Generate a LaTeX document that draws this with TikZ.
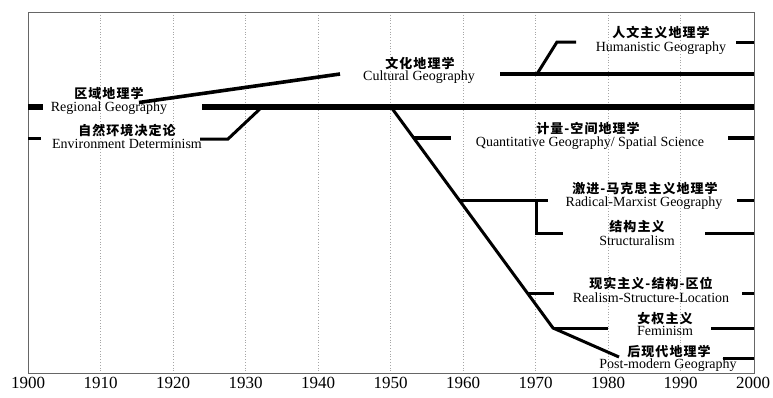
\documentclass[tikz,border=0pt]{standalone}
\usepackage{fontspec}
\setmainfont{Liberation Serif}
\newfontfamily\cjk{Noto Sans CJK SC}[LetterSpace=8]
\tikzset{
  en/.style={font=\fontsize{14}{14}\selectfont, inner sep=0pt, anchor=center},
  zh/.style={font=\cjk\bfseries\fontsize{13}{13}\selectfont, inner sep=0pt, anchor=center},
  yr/.style={font=\fontsize{17}{17}\selectfont, inner sep=0pt, anchor=center},
  gridline/.style={draw=gray!70, dotted, line width=0.8pt},
  frameline/.style={draw=gray!80!black, line width=1pt},
  bar6/.style={line width=6pt},
  bar4/.style={line width=4pt},
  bar3/.style={line width=3pt, line join=miter},
}
\begin{document}
\begin{tikzpicture}[x=1pt,y=-1pt]
\useasboundingbox (0,0) rectangle (773,397);
% grid
\foreach \i in {1,...,9} {
  \coordinate (gt\i) at ({28+72.5*\i},12);
  \coordinate (gb\i) at ({28+72.5*\i},373);
  \draw[gridline] (gt\i) -- (gb\i);
}
\coordinate (fr1) at (28,12);
\coordinate (fr2) at (754,373);
\draw[frameline] (fr1) rectangle (fr2);
% axis labels
\foreach \i/\y in {0/1900,1/1910,2/1920,3/1930,4/1940,5/1950,6/1960,7/1970,8/1980,9/1990,10/2000} {
  \node[yr] (yr\i) at ({28+72.5*\i},383) {\y};
}
% Regional geography main bar
\coordinate (r1) at (28,107); \coordinate (r2) at (43,107);
\coordinate (r3) at (202,107); \coordinate (r4) at (754,107);
\draw[bar6] (r1) -- (r2);
\draw[bar6] (r3) -- (r4);
% Cultural geography branch and bar
\coordinate (c0) at (139,102.5); \coordinate (c1) at (340,74);
\draw[line width=3.6pt] (c0) -- (c1);
\coordinate (c3) at (500,74); \coordinate (c4) at (754,74);
\draw[bar4] (c3) -- (c4);
% Humanistic
\coordinate (h0) at (537,74); \coordinate (h1) at (557,42); \coordinate (h2) at (576,42);
\coordinate (h3) at (736,42); \coordinate (h4) at (754,42);
\draw[bar3] (h0) -- (h1) -- (h2);
\draw[bar3] (h3) -- (h4);
% Environment determinism
\coordinate (e0) at (28,138); \coordinate (e1) at (41,138);
\coordinate (e2) at (200,139); \coordinate (e3) at (228,139); \coordinate (e4) at (262,107);
\draw[bar3] (e0) -- (e1);
\draw[bar3] (e2) -- (e3) -- (e4);
% main diagonal
\coordinate (d0) at (391,107); \coordinate (d1) at (553,328); \coordinate (d2) at (619,357);
\draw[bar3] (d0) -- (d1) -- (d2);
% Quantitative
\coordinate (q0) at (413.7,138); \coordinate (q1) at (451,138);
\coordinate (q2) at (728,138); \coordinate (q3) at (754,138);
\draw[bar4] (q0) -- (q1); \draw[bar4] (q2) -- (q3);
% Radical
\coordinate (m0) at (459,200); \coordinate (m1) at (548,200);
\coordinate (m2) at (737,200); \coordinate (m3) at (754,200);
\draw[bar3] (m0) -- (m1); \draw[bar3] (m2) -- (m3);
% Structuralism
\coordinate (s0) at (536,200); \coordinate (s1) at (536,233); \coordinate (s2) at (563,233);
\coordinate (s3) at (705,233); \coordinate (s4) at (754,233);
\draw[bar3] (s0) -- (s1) -- (s2); \draw[bar3] (s3) -- (s4);
% Realism
\coordinate (l0) at (527,293); \coordinate (l1) at (554,293);
\coordinate (l2) at (742,293); \coordinate (l3) at (754,293);
\draw[bar3] (l0) -- (l1); \draw[bar3] (l2) -- (l3);
% Feminism
\coordinate (f1) at (608,328); \coordinate (f2) at (711,328); \coordinate (f3) at (754,328);
\draw[bar3] (d1) -- (f1); \draw[bar3] (f2) -- (f3);
% Post-modern
\coordinate (p0) at (723,358); \coordinate (p1) at (754,358);
\draw[bar3] (p0) -- (p1);
% labels
\node[zh] (t1z) at (109,93) {区域地理学};
\node[en] (t1e) at (109,108) {Regional Geography};
\node[zh] (t2z) at (127,131) {自然环境决定论};
\node[en] (t2e) at (127,144) {Environment Determinism};
\node[zh] (t3z) at (420,63) {文化地理学};
\node[en] (t3e) at (419,77) {Cultural Geography};
\node[zh] (t4z) at (661,33) {人文主义地理学};
\node[en] (t4e) at (661,48) {Humanistic Geography};
\node[zh] (t5z) at (588,129) {计量-空间地理学};
\node[en] (t5e) at (590,143) {Quantitative Geography/ Spatial Science};
\node[zh] (t6z) at (645,189) {激进-马克思主义地理学};
\node[en] (t6e) at (644,203) {Radical-Marxist Geography};
\node[zh] (t7z) at (637,227) {结构主义};
\node[en] (t7e) at (637,241) {Structuralism};
\node[zh] (t8z) at (651,283) {现实主义-结构-区位};
\node[en] (t8e) at (651,298) {Realism-Structure-Location};
\node[zh] (t9z) at (665,319) {女权主义};
\node[en] (t9e) at (665,331) {Feminism};
\node[zh] (t10z) at (669,351) {后现代地理学};
\node[en] (t10e) at (668,365) {Post-modern Geography};
\end{tikzpicture}
\end{document}
